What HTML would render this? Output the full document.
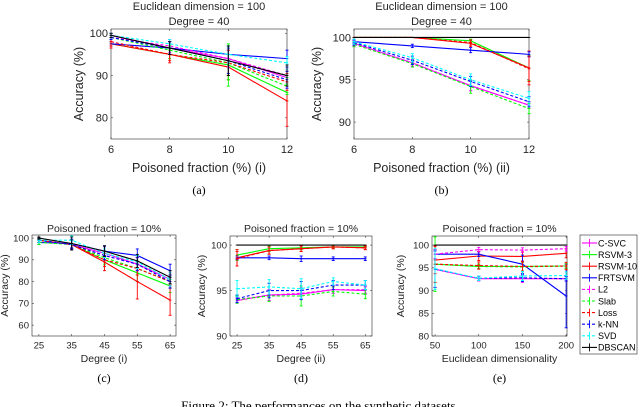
<!DOCTYPE html>
<html><head><meta charset="utf-8">
<style>
html,body{margin:0;padding:0;background:#fff;}
svg{display:block;font-family:"Liberation Sans",sans-serif;}
</style></head>
<body>
<svg id="fig" width="640" height="407" viewBox="0 0 640 407"></svg>
<script>
// ---- Series metadata ----
const seriesNames = ["C-SVC","RSVM-3","RSVM-10","FRTSVM","L2","Slab","Loss","k-NN","SVD","DBSCAN"];
const seriesColors = ["#ff00ff","#00ff00","#ff0000","#0000ff","#ff00ff","#00ff00","#ff0000","#0000ff","#00ffff","#000000"];
const seriesDashed = [false,false,false,false,true,true,true,true,true,false];

// ---- Panel (a) ----
const aX = [6,8,10,12];
const aTicksY = [80,90,100];
const aVals = [
 [99.5,96.5,94,89.5],[97.5,95,92.5,86],[97.5,95,92,84],[97.5,96.5,95,94],
 [99,97,94,90],[99,96,93,87.5],[98,95,93,88.5],[99,96.5,93.5,89],
 [99.5,97.5,95,93],[99.5,96.5,93.5,90]];
const aErr = [
 [0.5,1.5,2,1.5],[0.5,1,5,2],[1,2,3,6],[0.5,1.5,2,2],
 [0.5,1.5,2,1.5],[0.5,1,4,2],[1,1.5,3,2],[0.5,1.5,3,2],
 [0.5,1,2,1.5],[0.5,1.5,3.5,2.5]];

// ---- Panel (b) ----
const bX = [6,8,10,12];
const bTicksY = [90,95,100];
const bVals = [
 [99.3,97,94.3,92],[100,100,99.6,96.4],[100,100,99.3,96.4],[99.5,99,98.5,98],
 [99.3,97,94.3,92],[99.2,96.9,94.2,91.6],[100,100,99.4,96.3],[99.4,97.3,94.8,92.4],
 [99.5,97.6,95,92.8],[100,100,100,100]];
const bErr = [
 [0.3,0.4,0.6,0.4],[0,0,0.2,1.5],[0,0,0.4,2],[0.2,0.2,0.3,0.3],
 [0.3,0.4,0.6,0.4],[0.3,0.4,0.8,0.6],[0,0,0.3,1.5],[0.3,0.5,0.6,0.6],
 [0.3,0.5,0.7,0.8],[0,0,0,0]];

// ---- Panel (c) ----
const cX = [25,35,45,55,65];
const cTicksY = [60,70,80,90,100];
const cVals = [
 [99,97,93,88,81],[99,97,90,84,78],[99,97,89,80,71.5],[98,97.5,94,92,85],
 [99,97,92,88,80],[98,97,91,86,80],[99,97,90,86,80],[99,97,92,88,80],
 [99,99,93,89,81],[100,97.5,94,89.5,82]];
const cErr = [
 [1,2,2,3,3],[1,2,3,4,3],[1,2,4,8,7],[1,2,2,3,3],
 [1,2,2,3,3],[1,2,3,3,3],[1,2,3,3,3],[1,2,2,3,3],
 [1,2,2,3,3],[0.5,3,2.5,3,3]];

// ---- Panel (d) ----
const dX = [25,35,45,55,65];
const dTicksY = [90,95,100];
const dVals = [
 [93.9,94.5,94.6,95.1,95],[98.9,99.6,99.7,99.8,99.8],[98.6,99.4,99.6,99.8,99.7],[98.6,98.6,98.5,98.5,98.5],
 [94,94.5,94.7,95.1,95.1],[94,94.4,94.4,94.9,94.6],[98.5,99.4,99.6,99.8,99.7],[94.1,95,95,95.6,95.6],
 [95.2,95.4,95.2,96,95.6],[100,100,100,100,100]];
const dErr = [
 [0.3,0.6,0.6,0.4,0.4],[0.6,0.3,0.2,0.1,0.1],[0.9,0.4,0.3,0.2,0.2],[0.2,0.2,0.3,0.2,0.2],
 [0.3,0.6,0.6,0.4,0.4],[0.4,0.6,1.1,0.5,0.5],[0.8,0.4,0.3,0.2,0.2],[0.4,0.8,1,0.5,0.5],
 [0.9,0.8,1.1,0.4,0.5],[0,0,0,0,0]];

// ---- Panel (e) ----
const eX = [50,100,150,200];
const eTicksY = [80,85,90,95,100];
const eVals = [
 [94.7,92.6,92.6,92.6],[95.8,95.3,95.3,95.4],[96.7,97.6,97.5,98.2],[98,98,95.8,88.8],
 [98,99,98.9,99.2],[95.8,95.3,95.2,95.4],[95.8,95.5,95.3,95.4],[94.7,92.7,92.8,92.6],
 [94.8,92.7,93.2,93.3],[100,100,100,100]];
const eErr = [
 [4,0.5,0.8,0.5],[6,0.5,1,0.5],[3,1,1,1],[1,0.5,2,7],
 [1,0.5,0.5,0.5],[4,0.5,1,0.5],[4,0.8,1,0.8],[4,0.5,0.8,0.5],
 [4.5,0.5,1,0.8],[0,0,0,0]];

const NS="http://www.w3.org/2000/svg";
const svg=document.getElementById('fig');
function mk(tag,attrs,parent){const e=document.createElementNS(NS,tag);for(const k in attrs)e.setAttribute(k,attrs[k]);(parent||svg).appendChild(e);return e;}
function txt(s,x,y,size,anchor,parent,fam,rot){const t=mk('text',{x:x,y:y,'font-size':size,'text-anchor':anchor||'middle',fill:'#262626'},parent);if(fam){t.setAttribute('font-family',fam);t.setAttribute('fill','#000');}if(rot)t.setAttribute('transform','rotate(-90 '+x+' '+y+')');t.textContent=s;return t;}

function panel(p){
  const g=mk('g',{});
  
  
  const sx=v=>p.x0+(v-p.xmin)/(p.xmax-p.xmin)*(p.x1-p.x0);
  const sy=v=>p.y1-(v-p.ymin)/(p.ymax-p.ymin)*(p.y1-p.y0);
  const frame=mk('rect',{x:p.x0,y:p.y0,width:p.x1-p.x0,height:p.y1-p.y0,fill:'#fff',stroke:'#262626','stroke-width':0.6},g);
  
  
  p.xt.forEach(v=>{
    mk('line',{x1:sx(v),x2:sx(v),y1:p.y1,y2:p.y1-2,stroke:'#262626','stroke-width':0.5},g);
    mk('line',{x1:sx(v),x2:sx(v),y1:p.y0,y2:p.y0+2,stroke:'#262626','stroke-width':0.5},g);
    const t=txt(String(v),sx(v),p.y1+p.tfs+3,p.tfs,'middle',g);
    
    
  });
  p.yt.forEach(v=>{
    mk('line',{x1:p.x0,x2:p.x0+2,y1:sy(v),y2:sy(v),stroke:'#262626','stroke-width':0.5},g);
    mk('line',{x1:p.x1,x2:p.x1-2,y1:sy(v),y2:sy(v),stroke:'#262626','stroke-width':0.5},g);
    const t=txt(String(v),p.x0-3,sy(v)+p.tfs*0.35,p.tfs,'end',g);
    
    
  });
  p.vals.forEach((arr,i)=>{
    const sg=mk('g',{},g);
    
    
    const pts=arr.map((v,j)=>sx(p.xs[j])+','+sy(v)).join(' ');
    const pl=mk('polyline',{points:pts,fill:'none',stroke:seriesColors[i],'stroke-width':1.1},sg);
    if(seriesDashed[i])pl.setAttribute('stroke-dasharray','3,2');
    arr.forEach((v,j)=>{
      const e=p.err[i][j];const x=sx(p.xs[j]);
      if(e>0){
        mk('line',{x1:x,x2:x,y1:sy(v-e),y2:sy(v+e),stroke:seriesColors[i],'stroke-width':0.9},sg);
        mk('line',{x1:x-1.5,x2:x+1.5,y1:sy(v-e),y2:sy(v-e),stroke:seriesColors[i],'stroke-width':0.9},sg);
        mk('line',{x1:x-1.5,x2:x+1.5,y1:sy(v+e),y2:sy(v+e),stroke:seriesColors[i],'stroke-width':0.9},sg);
      }
      mk('line',{x1:x-1.3,x2:x+1.3,y1:sy(v),y2:sy(v),stroke:seriesColors[i],'stroke-width':0.9},sg);
    });
  });
  p.titles.forEach((s,k)=>{const t=txt(s,(p.x0+p.x1)/2,p.titleY+k*15,p.tlfs,'middle',g);});
  const xl=txt(p.xlabel,(p.x0+p.x1)/2,p.xlY,p.lfs,'middle',g);
  
  
  const yl=txt('Accuracy (%)',p.ylX,(p.y0+p.y1)/2,p.lfs,'middle',g,null,true);
  
  
  const cap=txt(p.cap,(p.x0+p.x1)/2,p.capY,12,'middle',g,'"Liberation Serif",serif');
  
  
}

panel({name:'panel-a',x0:111,x1:287,y0:29,y1:139,xmin:6,xmax:12,ymin:75,ymax:101,xs:aX,xt:aX,yt:aTicksY,vals:aVals,err:aErr,tfs:11,lfs:12.5,tlfs:11,titles:['Euclidean dimension = 100','Degree = 40'],titleY:10,xlabel:'Poisoned fraction (%) (i)',xlY:172,ylX:83,cap:'(a)',capY:194});
panel({name:'panel-b',x0:354,x1:529,y0:29,y1:139,xmin:6,xmax:12,ymin:88,ymax:101,xs:bX,xt:bX,yt:bTicksY,vals:bVals,err:bErr,tfs:11,lfs:12.5,tlfs:11,titles:['Euclidean dimension = 100','Degree = 40'],titleY:10,xlabel:'Poisoned fraction (%) (ii)',xlY:172,ylX:321,cap:'(b)',capY:194});
panel({name:'panel-c',x0:32,x1:176,y0:235,y1:336,xmin:22.9,xmax:66.8,ymin:55,ymax:101.4,xs:cX,xt:cX,yt:cTicksY,vals:cVals,err:cErr,tfs:9.5,lfs:10.5,tlfs:10.5,titles:['Poisoned fraction = 10%'],titleY:232,xlabel:'Degree (i)',xlY:362,ylX:8,cap:'(c)',capY:382});
panel({name:'panel-d',x0:230,x1:372,y0:236,y1:336,xmin:22.8,xmax:67.1,ymin:90,ymax:101,xs:dX,xt:dX,yt:dTicksY,vals:dVals,err:dErr,tfs:9.5,lfs:10.5,tlfs:10.5,titles:['Poisoned fraction = 10%'],titleY:232,xlabel:'Degree (ii)',xlY:362,ylX:205,cap:'(d)',capY:382});
panel({name:'panel-e',x0:432,x1:567,y0:236,y1:336,xmin:46.5,xmax:201,ymin:80,ymax:102,xs:eX,xt:eX,yt:eTicksY,vals:eVals,err:eErr,tfs:9.5,lfs:10.5,tlfs:10.5,titles:['Poisoned fraction = 10%'],titleY:232,xlabel:'Euclidean dimensionality',xlY:362,ylX:404,cap:'(e)',capY:382});

// legend
const lg=mk('g',{});


mk('rect',{x:580,y:235,width:57,height:119,fill:'#fff',stroke:'#262626','stroke-width':0.6},lg);
seriesNames.forEach((n,i)=>{
  const eg=mk('g',{},lg);
  
  
  const y=243+i*11.6;
  const l=mk('line',{x1:582,x2:597,y1:y,y2:y,stroke:seriesColors[i],'stroke-width':1.1},eg);
  if(seriesDashed[i])l.setAttribute('stroke-dasharray','3,2');
  mk('line',{x1:589.5,x2:589.5,y1:y-4,y2:y+4,stroke:seriesColors[i],'stroke-width':0.9},eg);
  const t=txt(n,598,y+3.3,9,'start',eg);
  t.setAttribute('fill','#000');
});

const fc=txt('Figure 2: The performances on the synthetic datasets.',320,410,13,'middle',svg,'"Liberation Serif",serif');


</script>
</body></html>
